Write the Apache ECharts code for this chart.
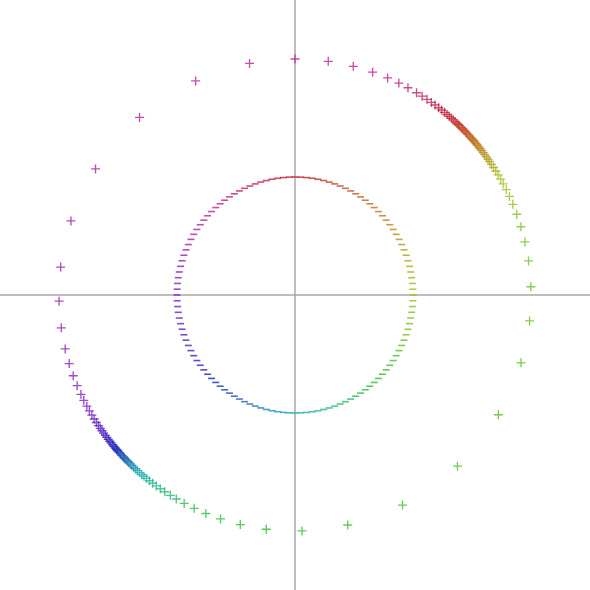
<!DOCTYPE html>
<html>
<head>
<meta charset="utf-8">
<script src="https://cdn.jsdelivr.net/npm/echarts@6/dist/echarts.min.js"></script>
<style>
  html, body { margin: 0; padding: 0; background: #fff; }
  #chart { width: 590px; height: 590px; }
</style>
</head>
<body>
<div id="chart"></div>
<script>
// colour parameter of each point (hue, degrees) - shared by both rings
const param = [
  0, 2.81, 5.63, 8.44, 11.25, 14.06, 16.88, 19.69, 22.5, 25.31, 28.13, 30.94, 33.75, 36.56, 39.38, 42.19,
  45, 47.81, 50.63, 53.44, 56.25, 59.06, 61.88, 64.69, 67.5, 70.31, 73.13, 75.94, 78.75, 81.56, 84.38, 87.19,
  90, 92.81, 95.63, 98.44, 101.25, 104.06, 106.88, 109.69, 112.5, 115.31, 118.13, 120.94, 123.75, 126.56, 129.38, 132.19,
  135, 137.81, 140.63, 143.44, 146.25, 149.06, 151.88, 154.69, 157.5, 160.31, 163.13, 165.94, 168.75, 171.56, 174.38, 177.19,
  180, 182.81, 185.63, 188.44, 191.25, 194.06, 196.88, 199.69, 202.5, 205.31, 208.13, 210.94, 213.75, 216.56, 219.38, 222.19,
  225, 227.81, 230.63, 233.44, 236.25, 239.06, 241.88, 244.69, 247.5, 250.31, 253.13, 255.94, 258.75, 261.56, 264.38, 267.19,
  270, 272.81, 275.63, 278.44, 281.25, 284.06, 286.88, 289.69, 292.5, 295.31, 298.13, 300.94, 303.75, 306.56, 309.38, 312.19,
  315, 317.81, 320.63, 323.44, 326.25, 329.06, 331.88, 334.69, 337.5, 340.31, 343.13, 345.94, 348.75, 351.56, 354.38, 357.19
]

// inner ring: angle (clockwise from top) equals the parameter, radius 1
const innerRadius = 1

// outer ring: angle of each point (clockwise from top), radius 2
const outerRadius = 2
const outerAngle = [
  41.5, 42.1, 42.7, 43.3, 43.8, 44.2, 44.8, 45.3, 45.8, 46.3, 46.7, 47.2, 47.7, 48.2, 48.7, 49.1,
  49.6, 50.1, 50.6, 51.2, 51.7, 52.3, 52.9, 53.5, 54.2, 54.9, 55.6, 56.4, 57.3, 58.3, 59.4, 60.6,
  61.9, 63.5, 65.3, 67.4, 70.0, 73.2, 77.0, 81.7, 88.0, 96.3, 106.7, 120.5, 136.5, 152.9, 167.1, 178.3,
  187.0, 193.4, 198.4, 202.2, 205.3, 208.0, 210.2, 211.9, 213.5, 214.8, 216.0, 217.1, 218.1, 219.0, 219.8, 220.5,
  221.2, 221.9, 222.5, 223.1, 223.7, 224.2, 224.8, 225.3, 225.8, 226.3, 226.7, 227.2, 227.7, 228.2, 228.7, 229.1,
  229.6, 230.1, 230.6, 231.2, 231.7, 232.3, 232.9, 233.5, 234.2, 234.9, 235.6, 236.4, 237.3, 238.3, 239.4, 240.6,
  241.9, 243.5, 245.1, 247.4, 250.0, 253.1, 256.8, 262.0, 268.5, 276.8, 288.3, 302.3, 318.8, 335.1, 348.9, 0.0,
  8.1, 14.3, 19.2, 23.1, 26.1, 28.6, 31.0, 32.6, 34.0, 35.3, 36.4, 37.5, 38.4, 39.3, 40.1, 40.8
]

const rad = (d) => d * Math.PI / 180
const toXY = (r, a, h) => [r * Math.sin(rad(a)), r * Math.cos(rad(a)), h]

const innerData = param.map((h) => toXY(innerRadius, h, h))
const outerData = outerAngle.map((a, i) => toXY(outerRadius, a, param[i]))

const plus = 'path://M0,4.25h10v1.5h-10z M4.25,0h1.5v10h-1.5z'

const axisCommon = {
  type: 'value',
  min: -2.5,
  max: 2.5,
  axisLine: { onZero: true, lineStyle: { color: '#a8a8a8', width: 1.5 } },
  axisTick: { show: false },
  axisLabel: { show: false },
  splitLine: { show: false }
}

const chart = echarts.init(document.getElementById('chart'))
chart.setOption({
  animation: false,
  grid: { left: 0, right: 0, top: 0, bottom: 0 },
  xAxis: { ...axisCommon },
  yAxis: { ...axisCommon },
  visualMap: {
    show: false,
    type: 'continuous',
    dimension: 2,
    min: 0,
    max: 360,
    seriesIndex: [0, 1],
    inRange: {
      color: ['#c01e2c', '#c0701e', '#a4c01c', '#2cc02c', '#1eb0b8', '#1a24b8', '#7a1ec8', '#c01e94', '#c01e2c']
    }
  },
  series: [
    {
      type: 'scatter',
      data: innerData,
      symbol: 'rect',
      symbolSize: [7, 1.6]
    },
    {
      type: 'scatter',
      data: outerData,
      symbol: plus,
      symbolSize: 9
    }
  ]
})
</script>
</body>
</html>
